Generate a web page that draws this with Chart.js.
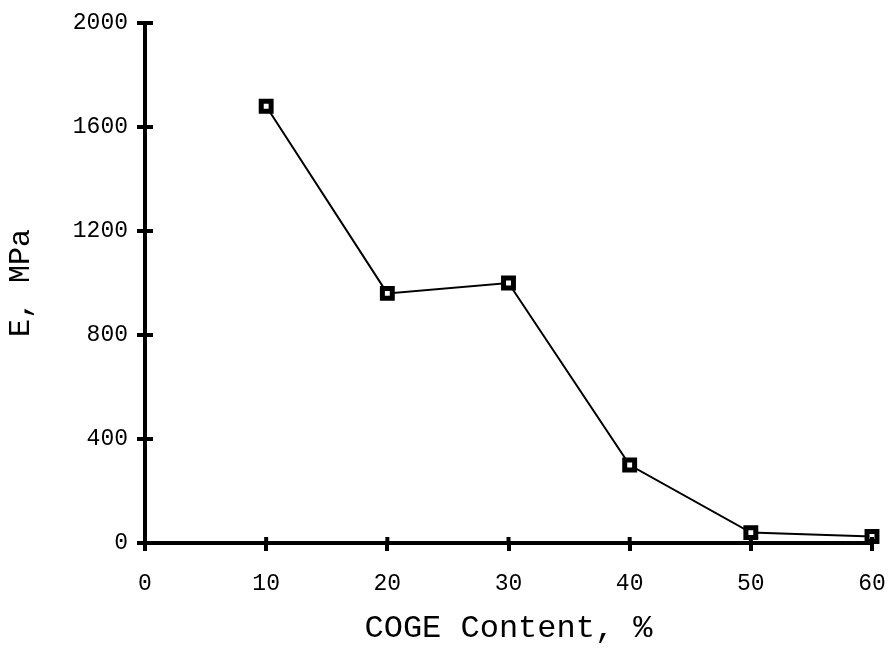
<!DOCTYPE html>
<html>
<head>
<meta charset="utf-8">
<script src="https://cdn.jsdelivr.net/npm/chart.js@4/dist/chart.umd.min.js"></script>
<style>
  html, body { margin: 0; padding: 0; background: #fff; }
  #wrap { width: 891px; height: 658px; }
</style>
</head>
<body>
<div id="wrap"><canvas id="modulusChart" width="891" height="658"></canvas></div>
<script>
// COGE content (%) vs. modulus E (MPa)
const cogeContent = [10, 20, 30, 40, 50, 60];
const modulusMPa = [1680, 960, 1000, 300, 40, 25];
const xTicks = [0, 10, 20, 30, 40, 50, 60];
const yTicks = [0, 400, 800, 1200, 1600, 2000];

const monoFont = '"Liberation Mono", "Courier New", monospace';

// ticks in the original cross the axis line, so draw the inner half ourselves
const innerTicks = {
    id: 'innerTicks',
    afterDraw(chart) {
        const { ctx, chartArea, scales } = chart;
        ctx.save();
        ctx.strokeStyle = '#000';
        ctx.lineWidth = 4;
        xTicks.forEach(v => {
            const px = scales.x.getPixelForValue(v);
            ctx.beginPath();
            ctx.moveTo(px, chartArea.bottom);
            ctx.lineTo(px, chartArea.bottom - 6);
            ctx.stroke();
        });
        yTicks.forEach(v => {
            const py = scales.y.getPixelForValue(v);
            ctx.beginPath();
            ctx.moveTo(chartArea.left, py);
            ctx.lineTo(chartArea.left + 8, py);
            ctx.stroke();
        });
        ctx.restore();
    }
};

new Chart(document.getElementById('modulusChart'), {
    type: 'line',
    data: {
        datasets: [{
            data: cogeContent.map((x, i) => ({ x: x, y: modulusMPa[i] })),
            borderColor: '#000',
            borderWidth: 2,
            backgroundColor: '#fff',
            pointStyle: 'rect',
            pointRadius: 7,
            pointBorderWidth: 5,
            pointBorderColor: '#000',
            pointBackgroundColor: '#fff',
            tension: 0,
            fill: false,
            clip: false
        }]
    },
    options: {
        responsive: false,
        animation: false,
        layout: { padding: { left: 0, right: 19, top: 23, bottom: 0 } },
        plugins: {
            legend: { display: false },
            tooltip: { enabled: false }
        },
        scales: {
            x: {
                type: 'linear',
                min: 0,
                max: 60,
                afterBuildTicks: scale => { scale.ticks = xTicks.map(v => ({ value: v })); },
                afterFit: scale => {
                    scale.height = 658 - 543;
                    scale.paddingLeft = 0;
                    scale.paddingRight = 0;
                },
                border: { color: '#000', width: 4 },
                grid: { drawOnChartArea: false, drawTicks: true, tickLength: 8, lineWidth: 4, color: '#000' },
                ticks: { color: '#000', padding: 19, font: { family: monoFont, size: 23 } },
                title: {
                    display: true,
                    text: 'COGE Content, %',
                    color: '#000',
                    padding: { top: 0, bottom: 10 },
                    font: { family: monoFont, size: 32 }
                }
            },
            y: {
                min: 0,
                max: 2000,
                afterBuildTicks: scale => { scale.ticks = yTicks.map(v => ({ value: v })); },
                afterFit: scale => { scale.width = 145; },
                border: { color: '#000', width: 4 },
                grid: { drawOnChartArea: false, drawTicks: true, tickLength: 8, lineWidth: 4, color: '#000' },
                ticks: {
                    color: '#000',
                    padding: 9,
                    font: { family: monoFont, size: 23 },
                    callback: value => String(value)
                },
                title: {
                    display: true,
                    text: 'E, MPa',
                    color: '#000',
                    padding: { top: 3, bottom: 0 },
                    font: { family: monoFont, size: 30 }
                }
            }
        }
    },
    plugins: [innerTicks]
});
</script>
</body>
</html>
